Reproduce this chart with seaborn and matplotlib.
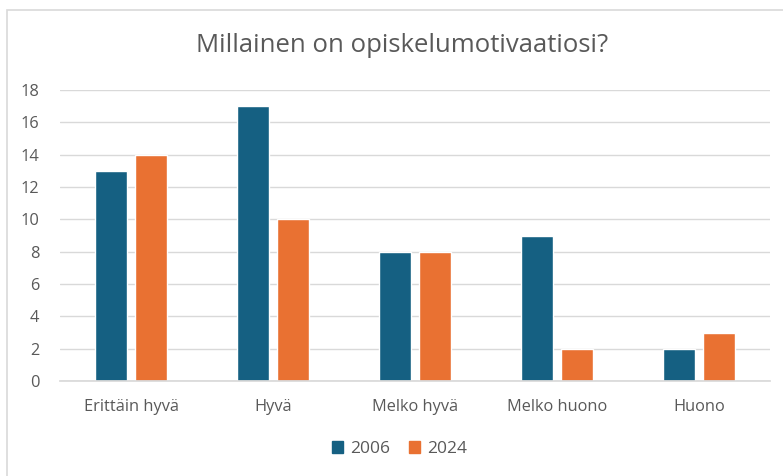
import matplotlib
matplotlib.use("Agg")
import matplotlib.pyplot as plt
import seaborn as sns
import pandas as pd
from matplotlib.patches import Rectangle

categories = ["Erittäin hyvä", "Hyvä", "Melko hyvä", "Melko huono", "Huono"]
values_2006 = [13, 17, 8, 9, 2]
values_2024 = [14, 10, 8, 2, 3]
series = ["2006", "2024"]
yticks = [0, 2, 4, 6, 8, 10, 12, 14, 16, 18]
title = "Millainen on opiskelumotivaatiosi?"

df = pd.DataFrame({
    "cat": categories * 2,
    "val": values_2006 + values_2024,
    "year": [series[0]] * len(categories) + [series[1]] * len(categories),
})

sns.set_theme(style="white")
plt.rcParams["font.family"] = ["Open Sans", "DejaVu Sans"]
text_col = "#595959"

fig = plt.figure(figsize=(7.83, 4.76), dpi=100)
ax = fig.add_axes([60/783, 1 - 381/476, 710/783, 291/476])

sns.barplot(data=df, x="cat", y="val", hue="year", order=categories,
            hue_order=series, palette=["#156082", "#E97132"],
            width=0.563, gap=0.2, ax=ax, legend=False, saturation=1)

ax.set_ylim(0, 18)
ax.set_yticks(yticks)
ax.set_xlim(-0.5, len(categories) - 0.5)
ax.yaxis.grid(True, color="#D9D9D9", linewidth=1)
ax.set_axisbelow(True)
for s in ["top", "right", "left"]:
    ax.spines[s].set_visible(False)
ax.spines["bottom"].set_color("#D9D9D9")
ax.set_xlabel("")
ax.set_ylabel("")
ax.tick_params(axis="both", length=0, labelsize=11.8, colors=text_col)
ax.tick_params(axis="x", pad=13)
ax.tick_params(axis="y", pad=15)

fig.text(0.513, 1 - 45/476, title, ha="center", va="center", fontsize=18.5, color=text_col)

handles = [Rectangle((0, 0), 1, 1, color=c) for c in ["#156082", "#E97132"]]
fig.legend(handles, series, loc="center", bbox_to_anchor=(0.51, 1 - 449/476),
           ncol=2, frameon=False, fontsize=12.5, handlelength=0.65, handleheight=0.65,
           columnspacing=1.1, handletextpad=0.4, labelcolor=text_col)

border = Rectangle((7/783, -0.1), 1.2, 1 - 10/476 + 0.1, transform=fig.transFigure,
                   fill=False, edgecolor="#D9D9D9", linewidth=1.2, clip_on=False)
fig.patches.append(border)

fig.savefig("out.png", dpi=100)
